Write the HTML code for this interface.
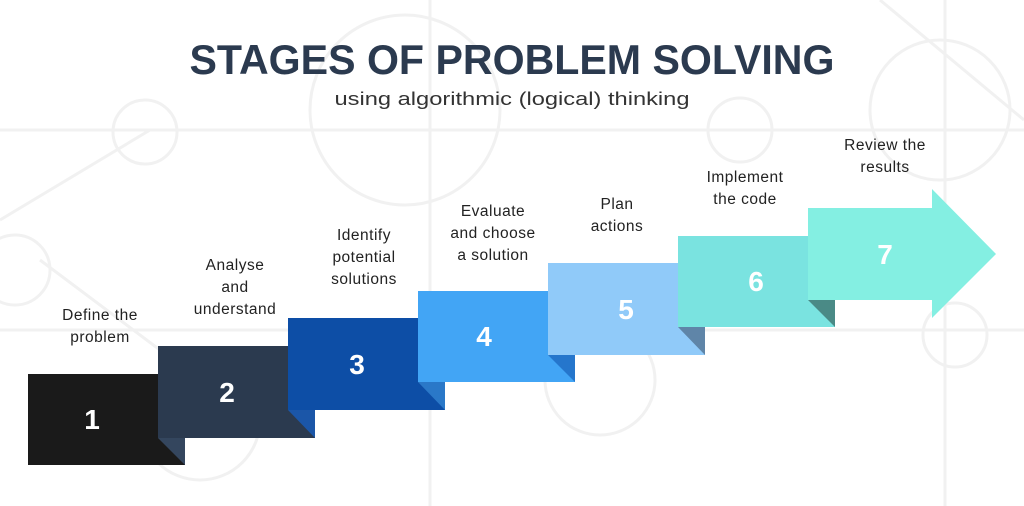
<!DOCTYPE html>
<html><head><meta charset="utf-8"><style>
html,body{margin:0;padding:0;background:#fff;}
svg{display:block}
text{font-family:"Liberation Sans","DejaVu Sans",sans-serif}
</style></head><body>
<svg width="1024" height="506" viewBox="0 0 1024 506" xmlns="http://www.w3.org/2000/svg">
<g stroke="#f1f1f1" stroke-width="3" fill="none">
 <line x1="0" y1="130" x2="1024" y2="130"/>
 <line x1="0" y1="330" x2="1024" y2="330"/>
 <line x1="945" y1="0" x2="945" y2="506"/>
 <line x1="430" y1="0" x2="430" y2="506"/>
 <line x1="0" y1="220" x2="150" y2="130"/>
 <line x1="40" y1="260" x2="160" y2="350"/>
 <line x1="880" y1="0" x2="1024" y2="120"/>
 <circle cx="145" cy="132" r="32"/>
 <circle cx="405" cy="110" r="95"/>
 <circle cx="740" cy="130" r="32"/>
 <circle cx="940" cy="110" r="70"/>
 <circle cx="15" cy="270" r="35"/>
 <circle cx="200" cy="420" r="60"/>
 <circle cx="955" cy="335" r="32"/>
 <circle cx="600" cy="380" r="55"/>
</g>
<text x="512" y="74" text-anchor="middle" font-size="42" font-weight="bold" fill="#2b3a4f" textLength="645" lengthAdjust="spacingAndGlyphs">STAGES OF PROBLEM SOLVING</text>
<text x="512" y="105" text-anchor="middle" font-size="18" fill="#333" textLength="355" lengthAdjust="spacingAndGlyphs">using algorithmic (logical) thinking</text>
<g font-size="15.5" fill="#222" text-anchor="middle" letter-spacing="0.5">
 <text x="100" y="320">Define the</text><text x="100" y="342">problem</text>
 <text x="235" y="270">Analyse</text><text x="235" y="292">and</text><text x="235" y="314">understand</text>
 <text x="364" y="240">Identify</text><text x="364" y="262">potential</text><text x="364" y="284">solutions</text>
 <text x="493" y="216">Evaluate</text><text x="493" y="238">and choose</text><text x="493" y="260">a solution</text>
 <text x="617" y="209">Plan</text><text x="617" y="231">actions</text>
 <text x="745" y="182">Implement</text><text x="745" y="204">the code</text>
 <text x="885" y="150">Review the</text><text x="885" y="172">results</text>
</g>
<rect x="28" y="374" width="157" height="91" fill="#1a1a1a"/>
<polygon points="158,438 185,438 185,465" fill="#34465e"/>
<rect x="158" y="346" width="157" height="92" fill="#2b3a4f"/>
<polygon points="288,410 315,410 315,438" fill="#1b56a8"/>
<rect x="288" y="318" width="157" height="92" fill="#0d4ea6"/>
<polygon points="418,382 445,382 445,410" fill="#2a78c8"/>
<rect x="418" y="291" width="157" height="91" fill="#42a5f5"/>
<polygon points="548,355 575,355 575,382" fill="#2576cc"/>
<rect x="548" y="263" width="157" height="92" fill="#90caf9"/>
<polygon points="678,327 705,327 705,355" fill="#5f85a8"/>
<rect x="678" y="236" width="157" height="91" fill="#7ae3e0"/>
<polygon points="808,300 835,300 835,327" fill="#4a8a86"/>
<polygon points="808,208 932,208 932,189 996,254 932,318 932,300 808,300" fill="#84efe2"/>
<g font-size="28" font-weight="bold" fill="#fff" text-anchor="middle">
 <text x="92" y="429">1</text>
 <text x="227" y="402">2</text>
 <text x="357" y="374">3</text>
 <text x="484" y="346">4</text>
 <text x="626" y="319">5</text>
 <text x="756" y="291">6</text>
 <text x="885" y="264">7</text>
</g>
</svg>
</body></html>
